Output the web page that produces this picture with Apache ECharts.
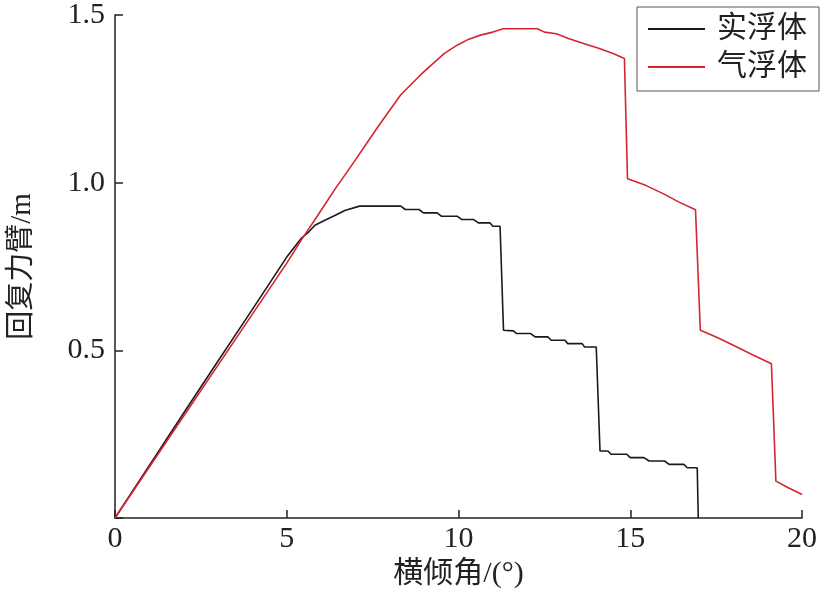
<!DOCTYPE html>
<html>
<head>
<meta charset="utf-8">
<script src="https://cdn.jsdelivr.net/npm/echarts@6/dist/echarts.min.js"></script>
<style>html,body{margin:0;padding:0;background:#fff;}#c{width:820px;height:594px;}</style>
</head>
<body>
<div id="c"></div>
<script>
// Series names
const seriesNames = ['实浮体', '气浮体'];
// 实浮体: [heel angle (deg), righting arm (m)]
const solidData = [
  [0,0],[1,0.157],[2,0.313],[3,0.468],[4,0.622],[5,0.778],[5.43,0.835],[5.63,0.852],[5.82,0.873],
  [6.11,0.888],[6.4,0.902],[6.69,0.917],[7.12,0.93],[8.32,0.93],
  [8.45,0.92],[8.85,0.92],[8.98,0.91],[9.38,0.91],[9.5,0.90],[9.96,0.90],[10.1,0.89],[10.44,0.89],
  [10.58,0.88],[10.92,0.88],[11.0,0.87],[11.21,0.87],[11.31,0.56],[11.6,0.558],[11.69,0.55],[12.1,0.55],
  [12.23,0.54],[12.6,0.54],[12.7,0.53],[13.1,0.53],[13.18,0.52],[13.6,0.52],[13.67,0.51],[14.01,0.51],
  [14.12,0.2],[14.35,0.2],[14.44,0.19],[14.9,0.19],[15.0,0.18],[15.4,0.18],[15.55,0.17],[16.0,0.17],
  [16.13,0.16],[16.56,0.16],[16.66,0.15],[16.95,0.15],[16.98,0]
];
// 气浮体
const airData = [
  [0,0],[1,0.152],[2,0.304],[3,0.456],[4,0.608],[5,0.76],[5.43,0.83],[5.92,0.905],[6.4,0.98],
  [6.88,1.05],[7.65,1.166],[8.32,1.262],[8.9,1.322],[9.58,1.385],
  [9.96,1.41],[10.3,1.428],[10.64,1.44],[11,1.449],[11.3,1.459],[12.3,1.459],[12.5,1.449],[12.85,1.444],
  [13.2,1.43],[13.53,1.419],[14.1,1.4],[14.5,1.385],[14.83,1.37],[14.92,1.012],[15.45,0.992],[16.0,0.965],
  [16.42,0.942],[16.9,0.919],[17.04,0.56],[17.5,0.54],[18,0.515],[18.5,0.49],[19.11,0.46],[19.24,0.11],
  [19.6,0.09],[20,0.07]
];
// Axis settings
const xTitle = '横倾角/(°)';
const yTitle = '回复力臂/m';
const xMin = 0, xMax = 20, xStep = 5;
const yMin = 0, yMax = 1.5, yStep = 0.5;

const FONT = "'Liberation Serif', 'Noto Sans CJK SC', serif";
const chart = echarts.init(document.getElementById('c'), null, {renderer: 'canvas'});
chart.setOption({
  backgroundColor: '#fff',
  animation: false,
  grid: {left: 112, right: 15, top: 15, bottom: 76},
  legend: {
    orient: 'vertical',
    left: 637, top: 7,
    padding: [7, 12, 9, 11],
    borderColor: '#555', borderWidth: 1,
    icon: 'rect',
    itemWidth: 57, itemHeight: 2, itemGap: 8,
    textStyle: {fontFamily: FONT, fontSize: 30, lineHeight: 28, color: '#222', padding: [0, 0, 0, 7]},
    data: seriesNames
  },
  xAxis: {
    type: 'value', min: xMin, max: xMax, interval: xStep,
    name: xTitle, nameLocation: 'middle', nameGap: 38,
    nameTextStyle: {fontFamily: FONT, fontSize: 30, color: '#222'},
    axisLine: {show: true, lineStyle: {color: '#222', width: 1.5}},
    axisTick: {show: true, inside: true, length: 8, lineStyle: {color: '#222', width: 1.5}},
    axisLabel: {fontFamily: FONT, fontSize: 30, color: '#222', margin: 6},
    splitLine: {show: false}
  },
  yAxis: {
    type: 'value', min: yMin, max: yMax, interval: yStep,
    name: yTitle, nameLocation: 'middle', nameGap: 78,
    nameTextStyle: {fontFamily: FONT, fontSize: 29, color: '#222'},
    axisLine: {show: true, lineStyle: {color: '#222', width: 1.5}},
    axisTick: {show: true, inside: true, length: 8, lineStyle: {color: '#222', width: 1.5}},
    axisLabel: {fontFamily: FONT, fontSize: 30, color: '#222', margin: 10,
      formatter: v => v === 0 ? '' : v.toFixed(1)},
    splitLine: {show: false}
  },
  series: [
    {name: seriesNames[0], type: 'line', data: solidData, symbol: 'none',
     lineStyle: {color: '#1a1a1a', width: 1.6}, itemStyle: {color: '#1a1a1a'}},
    {name: seriesNames[1], type: 'line', data: airData, symbol: 'none',
     lineStyle: {color: '#d42630', width: 1.6}, itemStyle: {color: '#d42630'}}
  ]
});
</script>
</body>
</html>
